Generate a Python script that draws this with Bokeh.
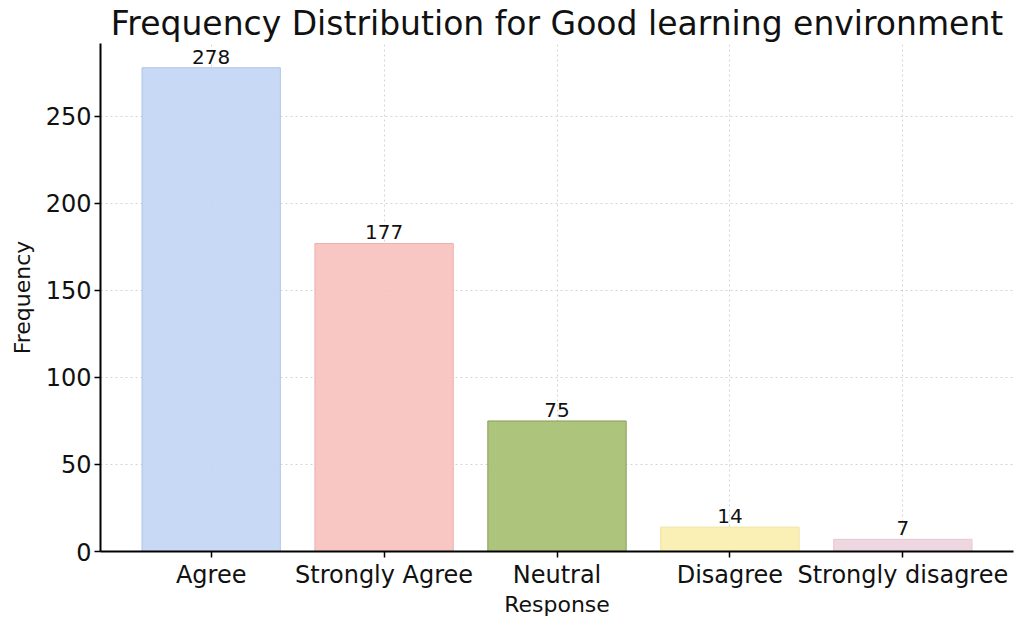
from bokeh.plotting import figure
from bokeh.models import ColumnDataSource, FixedTicker, Range1d, LabelSet
from bokeh.core.properties import value
from bokeh.embed import file_html
from bokeh.resources import INLINE

categories = ["Agree", "Strongly Agree", "Neutral", "Disagree", "Strongly disagree"]
counts = [278, 177, 75, 14, 7]
fill_colors = ["#c2d6f4", "#f9c2be", "#a6bf72", "#faeeae", "#eed4de"]
edge_colors = ["#b0c6e6", "#ecb0ac", "#849f52", "#f0e2a2", "#e6c8d4"]
y_ticks = [0, 50, 100, 150, 200, 250]

FONT = "DejaVu Sans"

xs = list(range(len(categories)))
source = ColumnDataSource(dict(
    x=xs, top=counts, fill=fill_colors, edge=edge_colors,
    label=[str(c) for c in counts],
))

p = figure(
    width=1019, height=619,
    output_backend="svg", toolbar_location=None,
    x_range=Range1d(-0.64, 4.64), y_range=Range1d(0, 291.9),
    title="Frequency Distribution for Good learning environment",
    min_border_left=100, min_border_right=6, min_border_top=0, min_border_bottom=0,
)
p.outline_line_color = None
p.background_fill_color = "white"
p.border_fill_color = "white"

p.title.text_font = FONT
p.title.text_font_size = "33px"
p.title.text_font_style = "normal"
p.title.align = "center"
p.title.text_color = "#111111"
p.title.standoff = 2
p.title.offset = 0

p.vbar(x="x", top="top", width=0.8, bottom=0, source=source,
       fill_color="fill", line_color="edge", fill_alpha=0.92, line_width=1)

labels = LabelSet(x="x", y="top", text="label", source=source,
                  text_align="center", text_baseline="bottom", y_offset=4,
                  text_font=value(FONT), text_font_size=value("20px"),
                  text_color="#111111")
p.add_layout(labels)

p.xaxis.ticker = FixedTicker(ticks=xs)
p.xaxis.major_label_overrides = {i: c for i, c in enumerate(categories)}
p.yaxis.ticker = FixedTicker(ticks=y_ticks)
for ax in (p.xaxis[0], p.yaxis[0]):
    ax.axis_line_color = "black"
    ax.axis_line_width = 2
    ax.major_tick_line_color = "black"
    ax.major_tick_line_width = 1.5
    ax.major_tick_out = 6
    ax.major_tick_in = 0
    ax.minor_tick_line_color = None
    ax.major_label_text_font = FONT
    ax.major_label_text_font_size = "24px"
    ax.major_label_text_color = "#111111"
    ax.axis_label_text_font = FONT
    ax.axis_label_text_font_size = "22px"
    ax.axis_label_text_font_style = "normal"
    ax.axis_label_text_color = "#111111"
    ax.major_label_standoff = 3
    ax.axis_label_standoff = 0

p.xaxis.axis_label = "Response"
p.yaxis.axis_label = "Frequency"
p.yaxis.axis_label_standoff = 8

p.xgrid.ticker = FixedTicker(ticks=xs)
p.ygrid.ticker = FixedTicker(ticks=y_ticks)
for g in (p.xgrid[0], p.ygrid[0]):
    g.grid_line_color = "#d4d4d4"
    g.grid_line_dash = "2 3"
    g.grid_line_width = 1
    g.level = "underlay"

open("out.html", "w").write(file_html(p, INLINE))
